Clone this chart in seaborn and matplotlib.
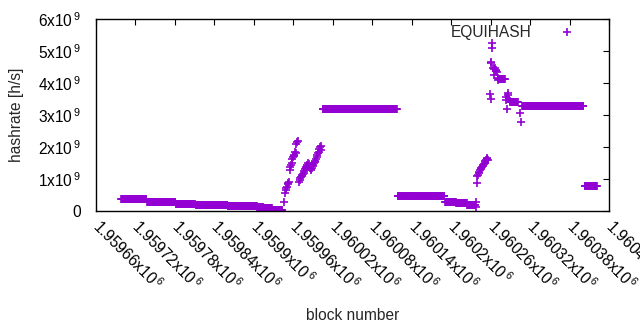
import matplotlib
matplotlib.use("Agg")
import matplotlib.pyplot as plt
import matplotlib.ticker as ticker
import numpy as np
import pandas as pd
import seaborn as sns

# flat stretches where every block has the same hashrate (values in 1e9 h/s)
run_first = [1959699, 1959738, 1959782, 1959812, 1959861, 1959906, 1959915, 1959929,
             1960005, 1960119, 1960191, 1960208, 1960225, 1960273, 1960290,
             1960308, 1960403]
run_last = [1959737, 1959781, 1959811, 1959860, 1959905, 1959914, 1959928, 1959944,
            1960118, 1960190, 1960207, 1960224, 1960237, 1960282, 1960302,
            1960401, 1960422]
run_rate = [0.37, 0.28, 0.21, 0.18, 0.17, 0.13, 0.09, 0.03,
            3.18, 0.46, 0.27, 0.24, 0.19, 4.12, 3.40,
            3.29, 0.79]

# single blocks in the steep parts
point_block = [
    1959946, 1959948, 1959949, 1959950, 1959951, 1959952, 1959953, 1959954,
    1959955, 1959956, 1959957, 1959958, 1959959, 1959960, 1959961, 1959962,
    1959963, 1959964, 1959965, 1959966, 1959967,
    1959969, 1959970, 1959971, 1959972, 1959973, 1959974, 1959975, 1959976,
    1959977, 1959978, 1959979, 1959980, 1959981, 1959982, 1959983, 1959984,
    1959985, 1959986, 1959987, 1959988, 1959989, 1959990, 1959991, 1959992,
    1959993, 1959994, 1959995, 1959996, 1959997, 1959998, 1959999, 1960000,
    1960001, 1960002, 1960003,
    1960238, 1960238, 1960239, 1960240, 1960241, 1960242, 1960243, 1960244,
    1960245, 1960246, 1960247, 1960248, 1960249, 1960250, 1960251, 1960252,
    1960253, 1960254, 1960255, 1960256,
    1960259, 1960260, 1960261, 1960261, 1960262, 1960263, 1960264, 1960265,
    1960266, 1960267, 1960268, 1960269, 1960270, 1960271, 1960272,
    1960283, 1960284, 1960285, 1960286, 1960287, 1960288, 1960289,
    1960305, 1960306,
]
point_rate = [
    0.28, 0.57, 0.65, 0.71, 0.76, 0.83, 0.88, 0.92,
    1.28, 1.36, 1.44, 1.50, 1.62, 1.70, 1.75, 1.72,
    1.85, 1.80, 2.08, 2.15, 2.20,
    0.92, 0.97, 1.02, 1.05, 1.09, 1.12, 1.16, 1.20,
    1.25, 1.30, 1.33, 1.37, 1.40, 1.45, 1.51, 1.47,
    1.38, 1.33, 1.28, 1.31, 1.35, 1.40, 1.45, 1.49,
    1.53, 1.57, 1.62, 1.70, 1.75, 1.80, 1.85, 1.95,
    2.00, 2.03, 1.92,
    0.29, 0.13, 0.87, 1.09, 1.14, 1.18, 1.23, 1.27,
    1.30, 1.34, 1.37, 1.40, 1.44, 1.48, 1.51, 1.55,
    1.59, 1.62, 1.65, 1.58,
    3.65, 3.49, 4.67, 4.62, 5.24, 5.08, 4.46, 4.25,
    4.45, 4.48, 4.38, 4.41, 4.35, 4.09, 4.15,
    3.57, 3.47, 3.19, 3.68, 3.63, 3.49, 3.45,
    3.05, 2.77,
]

blocks = list(point_block)
rates = list(point_rate)
for first, last, rate in zip(run_first, run_last, run_rate):
    for b in range(first, last + 1):
        blocks.append(b)
        rates.append(rate)

df = pd.DataFrame({"block": blocks, "hashrate": np.array(rates) * 1e9})

sns.set_style("white")
plt.rcParams['font.family'] = ['Liberation Sans', 'DejaVu Sans']
plt.rcParams['mathtext.fontset'] = 'custom'
plt.rcParams['mathtext.rm'] = 'Liberation Sans'
plt.rcParams['mathtext.default'] = 'regular'
fs = 11.2

fig = plt.figure(figsize=(6.4, 3.3), dpi=100)
ax = fig.add_axes([95.5 / 640, 1 - 211 / 330, 513.5 / 640, 192 / 330])

sns.scatterplot(x="block", y="hashrate", data=df, marker="+", color="#9400d3",
                s=30, linewidth=1.2, label="EQUIHASH", ax=ax, legend=False)

ax.set_xlim(1959660, 1960440)
ax.set_ylim(0, 6e9)
ax.set_xticks(np.arange(1959660, 1960441, 60))
ax.set_yticks(np.arange(0, 6.1e9, 1e9))


def xfmt(v, pos):
    return r"%gx$10^{\,6}$" % (v / 1e6)


def yfmt(v, pos):
    if v == 0:
        return "0"
    return r"%dx$10^{\,9}$" % round(v / 1e9)


ax.xaxis.set_major_formatter(ticker.FuncFormatter(xfmt))
ax.yaxis.set_major_formatter(ticker.FuncFormatter(yfmt))
ax.tick_params(direction="in", length=4, width=0.8, top=True, right=True,
               labelsize=fs, colors="black")
ax.tick_params(axis="y", pad=10.4)
ax.tick_params(axis="x", pad=9)
for lbl in ax.get_xticklabels():
    lbl.set_rotation(-45)
    lbl.set_ha("left")
    lbl.set_va("center")
    lbl.set_rotation_mode("anchor")

for sp in ax.spines.values():
    sp.set_color("black")
    sp.set_linewidth(1.0)

ax.set_xlabel("block number", fontsize=fs, va="center")
ax.set_ylabel("hashrate [h/s]", fontsize=fs, va="center")
ax.xaxis.set_label_coords(0.5, (211 - 315) / 192)
ax.yaxis.set_label_coords((17 - 95.5) / 513.5, 0.5)

ax.legend(loc="center right", bbox_to_anchor=((590.4 - 95.5) / 513.5, 1 - 13 / 192),
          frameon=False, markerfirst=False, handlelength=3.0, handletextpad=0.8,
          borderpad=0, borderaxespad=0, fontsize=fs, scatterpoints=1)

fig.savefig("out.png", dpi=100)
